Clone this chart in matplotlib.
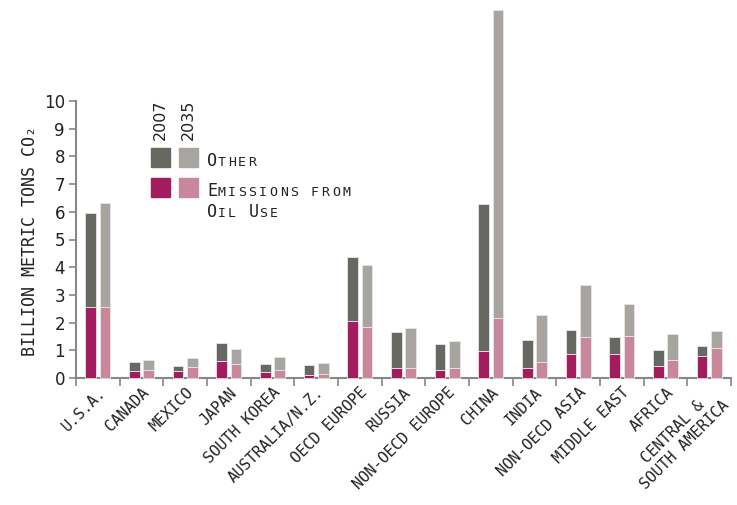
import matplotlib
matplotlib.use("Agg")
import matplotlib.pyplot as plt
import numpy as np

# region labels (x axis)
regions = ["U.S.A.", "CANADA", "MEXICO", "JAPAN", "SOUTH KOREA", "AUSTRALIA/N.Z.",
           "OECD EUROPE", "RUSSIA", "NON-OECD EUROPE", "CHINA", "INDIA",
           "NON-OECD ASIA", "MIDDLE EAST", "AFRICA", "CENTRAL &\nSOUTH AMERICA"]

# billion metric tons CO2, totals and oil share
total_2007 = [5.97, 0.58, 0.43, 1.25, 0.50, 0.47, 4.36, 1.65, 1.22, 6.27, 1.38, 1.72, 1.49, 1.00, 1.16]
oil_2007 = [2.58, 0.27, 0.26, 0.60, 0.20, 0.12, 2.06, 0.35, 0.30, 0.96, 0.35, 0.87, 0.87, 0.42, 0.80]
total_2035 = [6.31, 0.65, 0.74, 1.05, 0.75, 0.55, 4.08, 1.79, 1.35, 13.28, 2.27, 3.35, 2.67, 1.59, 1.71]
oil_2035 = [2.58, 0.30, 0.38, 0.50, 0.28, 0.16, 1.84, 0.37, 0.36, 2.15, 0.59, 1.48, 1.50, 0.64, 1.08]

c_other07 = "#686862"
c_other35 = "#a8a5a1"
c_oil07 = "#a31d5e"
c_oil35 = "#c8879a"

MONO = "DejaVu Sans Mono"

fig = plt.figure(figsize=(7.37, 5.05), dpi=100)
ax = fig.add_axes([76 / 737, 1 - 378 / 505, (731 - 76) / 737, (378 - 101) / 505])

x = np.arange(len(regions))
w = 0.25
off = 0.165
other07 = np.array(total_2007) - np.array(oil_2007)
other35 = np.array(total_2035) - np.array(oil_2035)

kw = dict(width=w, edgecolor="#e6e6e6", linewidth=0.6, clip_on=False, zorder=3)
ax.bar(x - off, oil_2007, color=c_oil07, **kw)
ax.bar(x - off, other07, bottom=oil_2007, color=c_other07, **kw)
ax.bar(x + off, oil_2035, color=c_oil35, **kw)
ax.bar(x + off, other35, bottom=oil_2035, color=c_other35, **kw)

ax.set_xlim(-0.5, len(regions) - 0.5)
ax.set_ylim(0, 10)
ax.set_yticks(range(0, 11))
ax.tick_params(axis="y", labelsize=12, length=5, width=1.2, color="#888888",
               pad=3, labelcolor="#222222")

# boundaries as major ticks, labels on minor ticks at centres
ax.set_xticks(np.arange(len(regions) + 1) - 0.5)
ax.set_xticklabels([])
ax.set_xticks(x, minor=True)
labels = ax.set_xticklabels(regions, minor=True, rotation=45, ha="right", va="top",
                            rotation_mode="anchor", family=MONO, fontsize=11)
labels[-1].set_multialignment("center")
ax.tick_params(axis="x", which="major", length=6, width=1.2, color="#888888")
ax.tick_params(axis="x", which="minor", length=0, pad=5, labelcolor="#222222")

for s in ["top", "right"]:
    ax.spines[s].set_visible(False)
for s in ["left", "bottom"]:
    ax.spines[s].set_color("#888888")
    ax.spines[s].set_linewidth(1.5)

fig.text(30 / 737, 1 - 241 / 505, "BILLION METRIC TONS CO₂", rotation=90,
         ha="center", va="center", family=[MONO, "DejaVu Sans"], fontsize=12,
         color="#222222")

# legend drawn by hand, in figure pixels
def fpix(px, py):
    return px / 737, 1 - py / 505

for (px, py, col) in [(151, 148, c_other07), (179, 148, c_other35),
                      (151, 178, c_oil07), (179, 178, c_oil35)]:
    fx, fy = fpix(px, py + 19)
    fig.patches.append(plt.Rectangle((fx, fy), 19 / 737, 19 / 505,
                                      transform=fig.transFigure, color=col))

for px, lab in [(160, "2007"), (188, "2035")]:
    fx, fy = fpix(px, 140)
    fig.text(fx, fy, lab, rotation=90, ha="center", va="bottom",
             family="DejaVu Sans", fontsize=11.5, color="#222222")

def small_caps(px, py, text, big=12, small=9.5, step=10.4):
    # each character on a fixed grid; originally-lowercase letters drawn smaller
    for i, ch in enumerate(text):
        if ch == " ":
            continue
        size = small if ch.islower() else big
        fx, fy = fpix(px + i * step, py)
        fig.text(fx, fy, ch.upper(), ha="left", va="baseline", family=MONO,
                 fontsize=size, color="#222222")

small_caps(207, 166, "Other")
small_caps(207, 196, "Emissions from")
small_caps(207, 217, "Oil Use")

fig.savefig("out.png", dpi=100)
